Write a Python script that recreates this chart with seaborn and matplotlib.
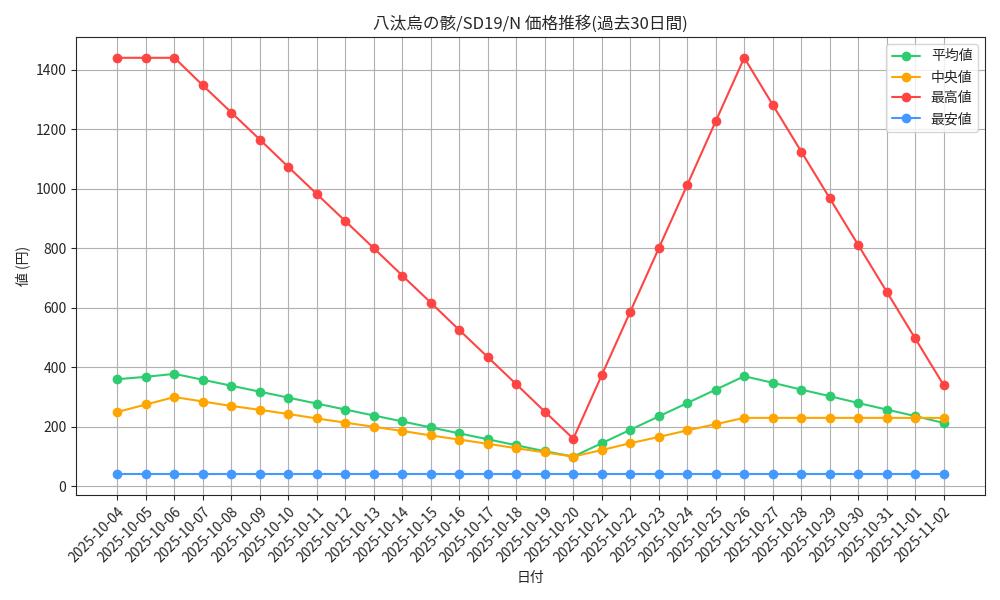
import matplotlib
matplotlib.use('Agg')
import matplotlib.pyplot as plt
import seaborn as sns
import pandas as pd

dates = pd.date_range('2025-10-04', '2025-11-02').strftime('%Y-%m-%d').tolist()
avg = [360, 368, 378, 358, 338, 318, 298, 278, 258, 238, 218, 198, 178, 158, 138,
       118, 100, 145, 190, 235, 280, 325, 370, 348, 325, 303, 280, 258, 236, 213]
median = [250, 275, 300, 285, 270, 257, 243, 228, 214, 200, 186, 171, 157, 143, 128,
          114, 100, 122, 145, 166, 188, 209, 230, 230, 230, 230, 230, 230, 230, 230]
high = [1440, 1440, 1440, 1347, 1256, 1165, 1073, 982, 891, 800, 708, 617, 525, 434, 343,
        251, 160, 374, 587, 800, 1013, 1227, 1440, 1282, 1125, 968, 811, 654, 497, 340]
low = [40] * 30

sns.set_style('ticks')
plt.rcParams['font.family'] = ['Noto Sans CJK JP', 'DejaVu Sans']

fig, ax = plt.subplots(figsize=(10, 6), dpi=100)
series = [('平均値', avg, '#2ecc71'), ('中央値', median, '#ffa500'),
          ('最高値', high, '#ff4444'), ('最安値', low, '#4499ff')]
for name, vals, col in series:
    sns.lineplot(x=dates, y=vals, ax=ax, label=name, color=col, marker='o',
                 markersize=7, markeredgewidth=0, linewidth=1.5)

ax.set_title('八汰烏の骸/SD19/N 価格推移(過去30日間)', fontsize=12)
ax.set_xlabel('日付')
ax.set_ylabel('値 (円)')
ax.grid(True, color='#b0b0b0')
ax.tick_params(axis='x', rotation=45)
for lbl in ax.get_xticklabels():
    lbl.set_ha('right')
    lbl.set_rotation_mode('anchor')
ax.legend(loc='upper right')
fig.tight_layout()
fig.savefig('out.png')
